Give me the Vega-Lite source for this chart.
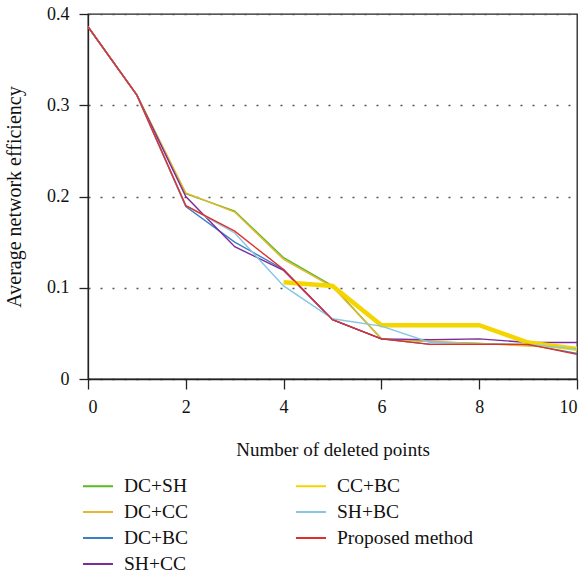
{
  "$schema": "https://vega.github.io/schema/vega-lite/v6.json",
  "width": 489,
  "height": 365,
  "autosize": "none",
  "padding": {"left": 88, "top": 14, "right": 11, "bottom": 196},
  "background": "white",
  "config": {
    "font": "Liberation Serif",
    "view": {"stroke": "#222", "strokeWidth": 1.3},
    "axis": {"labelFont": "Liberation Serif", "titleFont": "Liberation Serif", "labelFontSize": 18, "titleFontSize": 19, "titleFontWeight": "normal", "labelColor": "#111", "titleColor": "#111", "domainColor": "#222", "tickColor": "#222", "domainWidth": 1.3, "tickWidth": 1.3, "tickSize": 9},
    "legend": {"labelFont": "Liberation Serif", "labelFontSize": 19.5, "labelColor": "#111"}
  },
  "data": {
    "values": [
      {"series": "DC+SH", "x": 0, "y": 0.386}, {"series": "DC+SH", "x": 1, "y": 0.311}, {"series": "DC+SH", "x": 2, "y": 0.203}, {"series": "DC+SH", "x": 3, "y": 0.184}, {"series": "DC+SH", "x": 4, "y": 0.133}, {"series": "DC+SH", "x": 5, "y": 0.102}, {"series": "DC+SH", "x": 6, "y": 0.044}, {"series": "DC+SH", "x": 7, "y": 0.041}, {"series": "DC+SH", "x": 8, "y": 0.039}, {"series": "DC+SH", "x": 9, "y": 0.037}, {"series": "DC+SH", "x": 10, "y": 0.034},
      {"series": "DC+CC", "x": 0, "y": 0.386}, {"series": "DC+CC", "x": 1, "y": 0.311}, {"series": "DC+CC", "x": 2, "y": 0.204}, {"series": "DC+CC", "x": 3, "y": 0.183}, {"series": "DC+CC", "x": 4, "y": 0.131}, {"series": "DC+CC", "x": 5, "y": 0.101}, {"series": "DC+CC", "x": 6, "y": 0.044}, {"series": "DC+CC", "x": 7, "y": 0.041}, {"series": "DC+CC", "x": 8, "y": 0.039}, {"series": "DC+CC", "x": 9, "y": 0.036}, {"series": "DC+CC", "x": 10, "y": 0.034},
      {"series": "DC+BC", "x": 0, "y": 0.386}, {"series": "DC+BC", "x": 1, "y": 0.311}, {"series": "DC+BC", "x": 2, "y": 0.189}, {"series": "DC+BC", "x": 3, "y": 0.150}, {"series": "DC+BC", "x": 4, "y": 0.120}, {"series": "DC+BC", "x": 5, "y": 0.065}, {"series": "DC+BC", "x": 6, "y": 0.044}, {"series": "DC+BC", "x": 7, "y": 0.038}, {"series": "DC+BC", "x": 8, "y": 0.038}, {"series": "DC+BC", "x": 9, "y": 0.038}, {"series": "DC+BC", "x": 10, "y": 0.028},
      {"series": "SH+CC", "x": 0, "y": 0.386}, {"series": "SH+CC", "x": 1, "y": 0.311}, {"series": "SH+CC", "x": 2, "y": 0.200}, {"series": "SH+CC", "x": 3, "y": 0.145}, {"series": "SH+CC", "x": 4, "y": 0.119}, {"series": "SH+CC", "x": 5, "y": 0.065}, {"series": "SH+CC", "x": 6, "y": 0.044}, {"series": "SH+CC", "x": 7, "y": 0.043}, {"series": "SH+CC", "x": 8, "y": 0.044}, {"series": "SH+CC", "x": 9, "y": 0.040}, {"series": "SH+CC", "x": 10, "y": 0.040},
      {"series": "CC+BC", "x": 4, "y": 0.106}, {"series": "CC+BC", "x": 5, "y": 0.102}, {"series": "CC+BC", "x": 6, "y": 0.059}, {"series": "CC+BC", "x": 7, "y": 0.059}, {"series": "CC+BC", "x": 8, "y": 0.059}, {"series": "CC+BC", "x": 9, "y": 0.040}, {"series": "CC+BC", "x": 10, "y": 0.033},
      {"series": "SH+BC", "x": 0, "y": 0.386}, {"series": "SH+BC", "x": 1, "y": 0.311}, {"series": "SH+BC", "x": 2, "y": 0.190}, {"series": "SH+BC", "x": 3, "y": 0.160}, {"series": "SH+BC", "x": 4, "y": 0.102}, {"series": "SH+BC", "x": 5, "y": 0.066}, {"series": "SH+BC", "x": 6, "y": 0.058}, {"series": "SH+BC", "x": 7, "y": 0.040}, {"series": "SH+BC", "x": 8, "y": 0.038}, {"series": "SH+BC", "x": 9, "y": 0.038}, {"series": "SH+BC", "x": 10, "y": 0.033},
      {"series": "Proposed method", "x": 0, "y": 0.386}, {"series": "Proposed method", "x": 1, "y": 0.311}, {"series": "Proposed method", "x": 2, "y": 0.190}, {"series": "Proposed method", "x": 3, "y": 0.162}, {"series": "Proposed method", "x": 4, "y": 0.120}, {"series": "Proposed method", "x": 5, "y": 0.065}, {"series": "Proposed method", "x": 6, "y": 0.044}, {"series": "Proposed method", "x": 7, "y": 0.038}, {"series": "Proposed method", "x": 8, "y": 0.038}, {"series": "Proposed method", "x": 9, "y": 0.038}, {"series": "Proposed method", "x": 10, "y": 0.027}
    ]
  },
  "encoding": {
    "x": {
      "field": "x", "type": "quantitative",
      "scale": {"domain": [0, 10], "nice": false},
      "axis": {"values": [0, 2, 4, 6, 8, 10], "grid": false, "title": "Number of deleted points", "labelPadding": 9, "titlePadding": 24, "tickSize": 10}
    },
    "y": {
      "field": "y", "type": "quantitative",
      "scale": {"domain": [0, 0.4], "nice": false},
      "axis": {"values": [0, 0.1, 0.2, 0.3, 0.4], "format": ".1~f", "grid": true, "gridDash": [2, 10], "gridColor": "#555", "gridWidth": 1.5, "title": "Average network efficiency", "titleFontSize": 20, "labelPadding": 10, "titlePadding": 22}
    },
    "color": {
      "field": "series", "type": "nominal",
      "scale": {
        "domain": ["DC+SH", "DC+CC", "DC+BC", "SH+CC", "CC+BC", "SH+BC", "Proposed method"],
        "range": ["#55bb22", "#e8b530", "#3b80c4", "#7d2a9c", "#f5d500", "#85c6e6", "#e0302a"]
      },
      "legend": {"title": null, "orient": "none", "legendX": -6, "legendY": 456, "columns": 2, "symbolType": "stroke", "symbolSize": 900, "symbolStrokeWidth": 2, "labelOffset": 10, "columnPadding": 103, "rowPadding": -4, "padding": 0}
    },
    "order": {"field": "x", "type": "quantitative"}
  },
  "layer": [
    {
      "transform": [{"filter": {"field": "series", "oneOf": ["DC+SH", "DC+CC", "DC+BC", "SH+CC"]}}],
      "mark": {"type": "line", "strokeWidth": 1.4}
    },
    {
      "transform": [{"filter": {"field": "series", "equal": "CC+BC"}}],
      "mark": {"type": "line", "strokeWidth": 4.5}
    },
    {
      "transform": [{"filter": {"field": "series", "oneOf": ["SH+BC", "Proposed method"]}}],
      "mark": {"type": "line", "strokeWidth": 1.4}
    }
  ]
}
